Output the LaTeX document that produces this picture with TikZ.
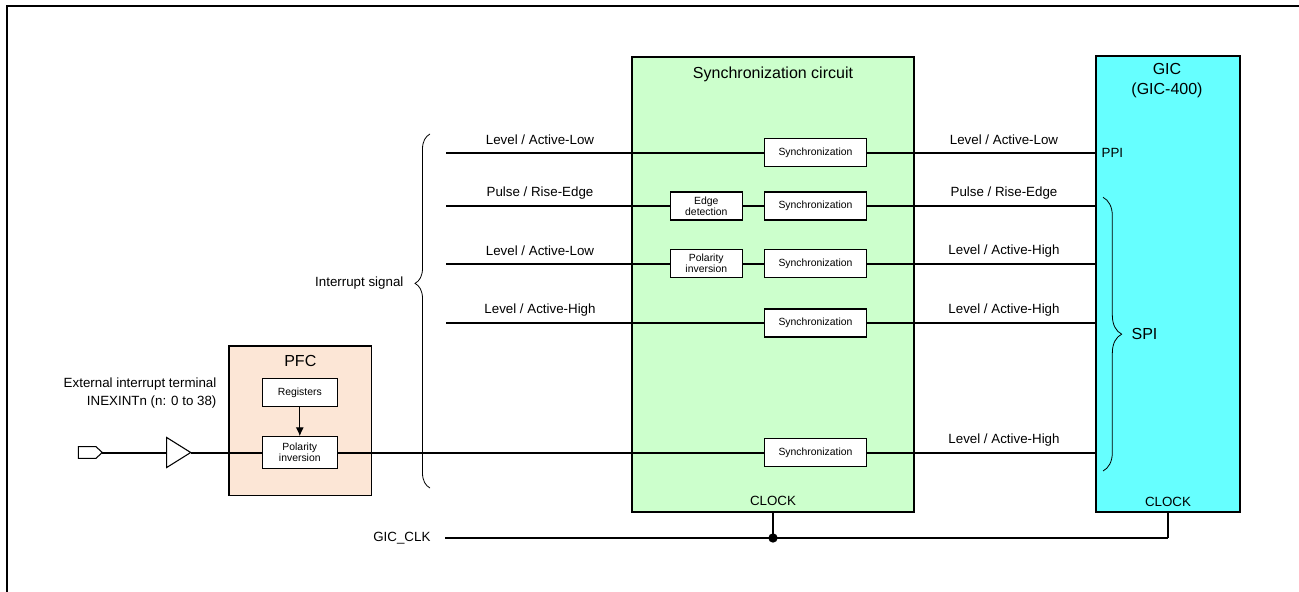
\documentclass[tikz,border=0pt]{standalone}
\usepackage{fontspec}
\setmainfont{Liberation Sans}
\usetikzlibrary{arrows.meta,decorations.pathreplacing}
\definecolor{syncgreen}{RGB}{204,255,204}
\definecolor{giccyan}{RGB}{102,255,255}
\definecolor{pfcpeach}{RGB}{252,230,214}
\tikzset{
	sig/.style={line width=1.5pt},
	thinline/.style={line width=0.8pt},
	blk/.style={draw, line width=0.9pt, fill=white, align=center, inner sep=1pt, font=\fontsize{7.8}{8}\selectfont},
	syncblk/.style={blk, minimum width=76.5pt, minimum height=21pt},
	smallblk/.style={blk, minimum width=54pt, minimum height=21pt},
	pfcblk/.style={blk, minimum width=56.25pt, minimum height=21pt},
	unit/.style={draw, line width=1pt, inner sep=0pt},
	lbl/.style={inner sep=1pt, font=\fontsize{10}{13.3}\selectfont},
	ttl/.style={inner sep=1pt, align=center, font=\fontsize{12}{14.5}\selectfont},
	brc/.style={line width=0.6pt, decorate},
}

\begin{document}
\begin{tikzpicture}[x=0.75pt, y=-0.75pt]
			%%%%% START %%%%%
			\useasboundingbox (0,0) rectangle (1299,592);
			\draw[line width=1.5pt] (6.5,592) -- (6.5,6.5) -- (1299,6.5);
			
			% big units
			\node[unit, fill=pfcpeach, minimum width=106.9pt, minimum height=112.1pt] (pfc) at (300.3,420.8) {};
			\node[unit, fill=syncgreen, minimum width=211.5pt, minimum height=341.25pt] (sync) at (773,284.5) {};
			\node[unit, fill=giccyan, minimum width=108pt, minimum height=342pt] (gic) at (1168,284) {};
			
			\node[ttl] (pfc-title) at (300.3,360.7) {PFC};
			\node[ttl] (sync-title) at (773,74) {Synchronization circuit};
			\node[ttl] (gic-title) at (1167,80.5) {GIC\\(GIC-400)};
			\node[lbl] (sync-clk) at (773,501) {CLOCK};
			\node[lbl] (gic-clk) at (1168,501.7) {CLOCK};
			\node[lbl, anchor=west] (ppi) at (1100,152.7) {PPI};
			
			% PFC inside
			\node[pfcblk] (reg) at (299.8,392.8) {Registers};
			\node[pfcblk, minimum height=23.7pt] (pfc-inv) at (299.8,452.5) {Polarity\\inversion};
			\draw[thinline, -{Latex[length=6.5pt,width=6pt]}] (reg) -- (pfc-inv);
			
			% synchronization blocks
			\node[syncblk] (syn1) at (815.5,152.7) {Synchronization};
			\node[syncblk] (syn2) at (815.5,206) {Synchronization};
			\node[syncblk] (syn3) at (815.5,263.5) {Synchronization};
			\node[syncblk] (syn4) at (815.5,323) {Synchronization};
			\node[syncblk] (syn5) at (815.5,452.5) {Synchronization};
			\node[smallblk] (edge) at (706.3,206) {Edge\\detection};
			\node[smallblk] (inv) at (706.3,263.5) {Polarity\\inversion};
			
			% terminal and buffer
			\draw[thinline, fill=white] (78.3,446.7) -- (96,446.7) -- (102.3,452.5) -- (96,458.3) -- (78.3,458.3) -- cycle;
			\coordinate (term) at (102.3,452.5);
			\draw[thinline, fill=white] (166.7,437.5) -- (190.7,452.5) -- (166.7,467.5) -- cycle;
			\coordinate (buf-in) at (166.7,452.5);
			\coordinate (buf-out) at (190.7,452.5);
			\node[lbl, align=right, anchor=east] (ext) at (218,392.8) {External interrupt terminal\\INEXINTn (n: 0 to 38)};
			
			% signal lines
			\coordinate (in1) at (446,152.7);
			\coordinate (in2) at (446,206);
			\coordinate (in3) at (446,263.5);
			\coordinate (in4) at (446,323);
			\draw[sig] (in1) -- (syn1) -- (syn1.east -| gic.west);
			\draw[sig] (in2) -- (edge) -- (syn2) -- (syn2.east -| gic.west);
			\draw[sig] (in3) -- (inv) -- (syn3) -- (syn3.east -| gic.west);
			\draw[sig] (in4) -- (syn4) -- (syn4.east -| gic.west);
			\draw[sig] (term) -- (buf-in);
			\draw[sig] (buf-out) -- (pfc-inv) -- (syn5) -- (syn5.east -| gic.west);
			
			\node[lbl] (l1) at (540,140) {Level / Active-Low};
			\node[lbl] (l2) at (540,193.3) {Pulse / Rise-Edge};
			\node[lbl] (l3) at (540,250.8) {Level / Active-Low};
			\node[lbl] (l4) at (540,310.3) {Level / Active-High};
			\node[lbl] (r1) at (1004,140) {Level / Active-Low};
			\node[lbl] (r2) at (1004,193.3) {Pulse / Rise-Edge};
			\node[lbl] (r3) at (1004,250.8) {Level / Active-High};
			\node[lbl] (r4) at (1004,310.3) {Level / Active-High};
			\node[lbl] (r5) at (1004,439.8) {Level / Active-High};
			
			% braces
			\draw[brc, decoration={brace, amplitude=11.25pt, aspect=0.578}] (430,488) -- (430,134);
			\node[lbl, anchor=east] (irq) at (405,283.3) {Interrupt signal};
			\draw[brc, decoration={brace, amplitude=14pt}] (1103,197.3) -- (1103,471);
			\node[ttl, anchor=west] (spi) at (1130,334) {SPI};
			
			% clock
			\coordinate (clk-in) at (445,538);
			\node[lbl, anchor=east] (gic-clk-name) at (432,538) {GIC\_CLK};
			\draw[sig] (clk-in) -- (gic.south |- clk-in);
			\draw[thinline] (gic.south |- clk-in) -- (gic.south);
			\draw[sig] (sync.south) -- (sync.south |- clk-in);
			\fill (sync.south |- clk-in) circle (3.5pt);
			
			%%%%% END %%%%%
\end{tikzpicture}
\end{document}
